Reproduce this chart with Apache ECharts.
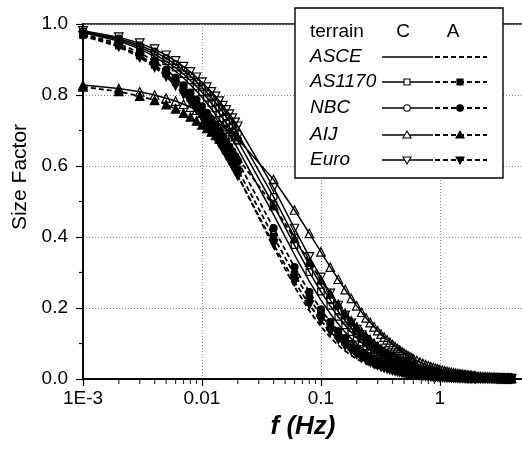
<!DOCTYPE html>
<html>
<head>
<meta charset="utf-8">
<script src="https://cdn.jsdelivr.net/npm/echarts@6/dist/echarts.min.js"></script>
<style>
html, body { margin: 0; padding: 0; background: #fff; }
#chart { width: 522px; height: 455px; }
</style>
</head>
<body>
<div id="chart"></div>
<script>
// frequency points (Hz), shared by every curve
const freq = [
  0.001, 0.002, 0.003, 0.004, 0.005, 0.006, 0.007, 0.008, 0.009, 0.010,
  0.011, 0.012, 0.013, 0.014, 0.015, 0.016, 0.017, 0.018, 0.019, 0.020,
  0.04, 0.06, 0.08, 0.10, 0.12, 0.14, 0.16, 0.18, 0.20, 0.22, 0.24, 0.26, 0.28, 0.30,
  0.32, 0.34, 0.36, 0.38, 0.40, 0.42, 0.44, 0.46, 0.48, 0.50, 0.52, 0.54, 0.56, 0.58, 0.60,
  0.64, 0.68, 0.72, 0.76, 0.80, 0.84, 0.88, 0.92, 0.96, 1.00,
  1.05, 1.10, 1.15, 1.20, 1.25, 1.30, 1.35, 1.40, 1.45, 1.50,
  1.55, 1.60, 1.65, 1.70, 1.75, 1.80, 1.85, 1.90, 1.95, 2.00,
  2.1, 2.2, 2.3, 2.4, 2.5, 2.6, 2.7, 2.8, 2.9, 3.0,
  3.1, 3.2, 3.3, 3.4, 3.5, 3.6, 3.7, 3.8, 3.9, 4.0
];

// size factor, terrain C and terrain A, per code
const asceC = [
  0.976, 0.952, 0.930, 0.908, 0.887, 0.867, 0.848, 0.829, 0.811, 0.794,
  0.777, 0.761, 0.745, 0.730, 0.716, 0.702, 0.688, 0.675, 0.662, 0.649,
  0.463, 0.350, 0.275, 0.222, 0.184, 0.155, 0.132, 0.114, 0.100, 0.088, 0.078, 0.070, 0.063, 0.057,
  0.0520, 0.0475, 0.0436, 0.0401, 0.0370, 0.0343, 0.0319, 0.0297, 0.0277, 0.0260, 0.0244, 0.0229, 0.0216, 0.0204, 0.0192,
  0.0173, 0.0156, 0.0141, 0.0129, 0.0118, 0.0108, 0.0100, 0.0092, 0.0085, 0.0079,
  0.0073, 0.0067, 0.0062, 0.0057, 0.0053, 0.0049, 0.0046, 0.0043, 0.0040, 0.0038,
  0.0036, 0.0034, 0.0032, 0.0030, 0.0028, 0.0027, 0.0026, 0.0024, 0.0023, 0.0022,
  0.0020, 0.0019, 0.0017, 0.0016, 0.0015, 0.0013, 0.0013, 0.0012, 0.0011, 0.0010,
  0.0010, 0.0009, 0.0009, 0.0008, 0.0008, 0.0007, 0.0007, 0.0006, 0.0006, 0.0006
];
const asceA = [
  0.969, 0.939, 0.911, 0.883, 0.857, 0.833, 0.809, 0.786, 0.764, 0.743,
  0.723, 0.704, 0.685, 0.668, 0.650, 0.634, 0.618, 0.603, 0.588, 0.574,
  0.372, 0.260, 0.192, 0.148, 0.117, 0.095, 0.079, 0.066, 0.057, 0.049, 0.043, 0.038, 0.033, 0.030,
  0.0267, 0.0241, 0.0219, 0.0199, 0.0183, 0.0168, 0.0155, 0.0143, 0.0133, 0.0123, 0.0115, 0.0108, 0.0101, 0.0095, 0.0089,
  0.0079, 0.0071, 0.0064, 0.0058, 0.0053, 0.0048, 0.0044, 0.0040, 0.0037, 0.0035,
  0.0032, 0.0029, 0.0027, 0.0025, 0.0023, 0.0021, 0.0020, 0.0018, 0.0017, 0.0016,
  0.0015, 0.0014, 0.0013, 0.0013, 0.0012, 0.0011, 0.0011, 0.0010, 0.0010, 0.0009,
  0.0008, 0.0008, 0.0007, 0.0007, 0.0006, 0.0006, 0.0005, 0.0005, 0.0005, 0.0004,
  0.0004, 0.0004, 0.0004, 0.0003, 0.0003, 0.0003, 0.0003, 0.0003, 0.0002, 0.0002
];
const as1170C = [
  0.977, 0.956, 0.935, 0.915, 0.895, 0.877, 0.859, 0.841, 0.824, 0.808,
  0.792, 0.777, 0.762, 0.748, 0.734, 0.721, 0.708, 0.695, 0.683, 0.671,
  0.490, 0.377, 0.301, 0.246, 0.206, 0.175, 0.151, 0.132, 0.116, 0.103, 0.092, 0.083, 0.075, 0.068,
  0.0620, 0.0568, 0.0523, 0.0483, 0.0447, 0.0416, 0.0387, 0.0362, 0.0338, 0.0317, 0.0298, 0.0281, 0.0265, 0.0251, 0.0237,
  0.0213, 0.0193, 0.0176, 0.0160, 0.0147, 0.0135, 0.0125, 0.0116, 0.0107, 0.0100,
  0.0092, 0.0085, 0.0078, 0.0072, 0.0067, 0.0063, 0.0059, 0.0055, 0.0052, 0.0048,
  0.0046, 0.0043, 0.0041, 0.0039, 0.0036, 0.0035, 0.0033, 0.0031, 0.0030, 0.0028,
  0.0026, 0.0024, 0.0022, 0.0020, 0.0019, 0.0017, 0.0016, 0.0015, 0.0014, 0.0013,
  0.0012, 0.0012, 0.0011, 0.0010, 0.0010, 0.0009, 0.0009, 0.0008, 0.0008, 0.0008
];
const as1170A = [
  0.969, 0.939, 0.911, 0.885, 0.860, 0.836, 0.813, 0.791, 0.770, 0.750,
  0.731, 0.713, 0.695, 0.678, 0.662, 0.647, 0.632, 0.617, 0.604, 0.590,
  0.401, 0.294, 0.226, 0.180, 0.147, 0.123, 0.104, 0.090, 0.078, 0.069, 0.061, 0.054, 0.049, 0.044,
  0.0399, 0.0364, 0.0333, 0.0306, 0.0282, 0.0261, 0.0243, 0.0226, 0.0211, 0.0197, 0.0185, 0.0173, 0.0163, 0.0154, 0.0145,
  0.0130, 0.0117, 0.0106, 0.0097, 0.0088, 0.0081, 0.0075, 0.0069, 0.0064, 0.0060,
  0.0055, 0.0050, 0.0046, 0.0043, 0.0040, 0.0037, 0.0034, 0.0032, 0.0030, 0.0028,
  0.0027, 0.0025, 0.0024, 0.0022, 0.0021, 0.0020, 0.0019, 0.0018, 0.0017, 0.0017,
  0.0015, 0.0014, 0.0013, 0.0012, 0.0011, 0.0010, 0.0009, 0.0009, 0.0008, 0.0008,
  0.0007, 0.0007, 0.0006, 0.0006, 0.0006, 0.0005, 0.0005, 0.0005, 0.0004, 0.0004
];
const nbcC = [
  0.979, 0.959, 0.940, 0.922, 0.904, 0.886, 0.869, 0.853, 0.837, 0.822,
  0.807, 0.793, 0.779, 0.765, 0.752, 0.739, 0.726, 0.714, 0.703, 0.691,
  0.513, 0.399, 0.321, 0.265, 0.222, 0.190, 0.164, 0.143, 0.126, 0.112, 0.100, 0.090, 0.082, 0.075,
  0.0681, 0.0625, 0.0576, 0.0532, 0.0493, 0.0458, 0.0427, 0.0399, 0.0374, 0.0351, 0.0330, 0.0311, 0.0293, 0.0277, 0.0263,
  0.0236, 0.0214, 0.0195, 0.0178, 0.0163, 0.0150, 0.0139, 0.0128, 0.0119, 0.0111,
  0.0102, 0.0094, 0.0087, 0.0081, 0.0075, 0.0070, 0.0065, 0.0061, 0.0057, 0.0054,
  0.0051, 0.0048, 0.0045, 0.0043, 0.0041, 0.0039, 0.0037, 0.0035, 0.0033, 0.0032,
  0.0029, 0.0027, 0.0024, 0.0023, 0.0021, 0.0019, 0.0018, 0.0017, 0.0016, 0.0015,
  0.0014, 0.0013, 0.0012, 0.0012, 0.0011, 0.0010, 0.0010, 0.0009, 0.0009, 0.0009
];
const nbcA = [
  0.972, 0.945, 0.919, 0.895, 0.871, 0.849, 0.827, 0.807, 0.787, 0.768,
  0.750, 0.732, 0.716, 0.700, 0.684, 0.669, 0.655, 0.641, 0.627, 0.614,
  0.425, 0.315, 0.245, 0.196, 0.161, 0.135, 0.115, 0.099, 0.086, 0.076, 0.067, 0.060, 0.054, 0.049,
  0.0443, 0.0404, 0.0371, 0.0341, 0.0314, 0.0291, 0.0270, 0.0252, 0.0235, 0.0220, 0.0206, 0.0194, 0.0182, 0.0172, 0.0162,
  0.0146, 0.0131, 0.0119, 0.0108, 0.0099, 0.0091, 0.0084, 0.0077, 0.0072, 0.0067,
  0.0061, 0.0056, 0.0052, 0.0048, 0.0044, 0.0041, 0.0039, 0.0036, 0.0034, 0.0032,
  0.0030, 0.0028, 0.0027, 0.0025, 0.0024, 0.0023, 0.0021, 0.0020, 0.0019, 0.0019,
  0.0017, 0.0015, 0.0014, 0.0013, 0.0012, 0.0011, 0.0010, 0.0010, 0.0009, 0.0009,
  0.0008, 0.0008, 0.0007, 0.0007, 0.0006, 0.0006, 0.0006, 0.0005, 0.0005, 0.0005
];
const aijC = [
  0.828, 0.818, 0.809, 0.800, 0.791, 0.783, 0.774, 0.766, 0.757, 0.749,
  0.742, 0.734, 0.726, 0.719, 0.711, 0.704, 0.697, 0.690, 0.683, 0.676,
  0.562, 0.476, 0.410, 0.358, 0.315, 0.281, 0.252, 0.227, 0.206, 0.188, 0.172, 0.159, 0.147, 0.136,
  0.1263, 0.1178, 0.1101, 0.1032, 0.0969, 0.0912, 0.0860, 0.0812, 0.0768, 0.0728, 0.0691, 0.0656, 0.0625, 0.0595, 0.0568,
  0.0519, 0.0475, 0.0438, 0.0404, 0.0374, 0.0348, 0.0324, 0.0303, 0.0283, 0.0266,
  0.0246, 0.0228, 0.0213, 0.0199, 0.0186, 0.0174, 0.0164, 0.0154, 0.0145, 0.0137,
  0.0130, 0.0123, 0.0117, 0.0111, 0.0106, 0.0101, 0.0096, 0.0092, 0.0087, 0.0084,
  0.0077, 0.0071, 0.0065, 0.0061, 0.0056, 0.0053, 0.0049, 0.0046, 0.0043, 0.0041,
  0.0038, 0.0036, 0.0034, 0.0032, 0.0031, 0.0029, 0.0028, 0.0026, 0.0025, 0.0024
];
const aijA = [
  0.823, 0.810, 0.797, 0.785, 0.773, 0.761, 0.749, 0.738, 0.727, 0.716,
  0.706, 0.696, 0.686, 0.676, 0.667, 0.658, 0.649, 0.640, 0.631, 0.623,
  0.488, 0.396, 0.329, 0.279, 0.240, 0.210, 0.185, 0.164, 0.147, 0.132, 0.120, 0.109, 0.100, 0.092,
  0.0849, 0.0785, 0.0729, 0.0679, 0.0634, 0.0593, 0.0557, 0.0523, 0.0493, 0.0465, 0.0440, 0.0416, 0.0394, 0.0375, 0.0356,
  0.0323, 0.0295, 0.0270, 0.0248, 0.0229, 0.0212, 0.0196, 0.0183, 0.0170, 0.0159,
  0.0147, 0.0136, 0.0126, 0.0118, 0.0110, 0.0103, 0.0096, 0.0090, 0.0085, 0.0080,
  0.0076, 0.0072, 0.0068, 0.0064, 0.0061, 0.0058, 0.0055, 0.0053, 0.0050, 0.0048,
  0.0044, 0.0040, 0.0037, 0.0035, 0.0032, 0.0030, 0.0028, 0.0026, 0.0024, 0.0023,
  0.0022, 0.0020, 0.0019, 0.0018, 0.0017, 0.0016, 0.0015, 0.0015, 0.0014, 0.0013
];
const euroC = [
  0.981, 0.963, 0.946, 0.929, 0.912, 0.896, 0.880, 0.865, 0.850, 0.836,
  0.822, 0.809, 0.796, 0.783, 0.770, 0.758, 0.746, 0.735, 0.723, 0.712,
  0.539, 0.424, 0.344, 0.286, 0.241, 0.207, 0.179, 0.157, 0.139, 0.124, 0.111, 0.100, 0.091, 0.083,
  0.0756, 0.0695, 0.0640, 0.0592, 0.0549, 0.0511, 0.0477, 0.0446, 0.0418, 0.0392, 0.0369, 0.0348, 0.0328, 0.0311, 0.0294,
  0.0265, 0.0240, 0.0218, 0.0200, 0.0183, 0.0169, 0.0156, 0.0144, 0.0134, 0.0125,
  0.0115, 0.0106, 0.0098, 0.0091, 0.0084, 0.0079, 0.0074, 0.0069, 0.0065, 0.0061,
  0.0057, 0.0054, 0.0051, 0.0048, 0.0046, 0.0044, 0.0041, 0.0039, 0.0038, 0.0036,
  0.0033, 0.0030, 0.0028, 0.0025, 0.0024, 0.0022, 0.0020, 0.0019, 0.0018, 0.0017,
  0.0016, 0.0015, 0.0014, 0.0013, 0.0012, 0.0012, 0.0011, 0.0011, 0.0010, 0.0010
];
const euroA = [
  0.967, 0.936, 0.906, 0.878, 0.852, 0.826, 0.802, 0.780, 0.758, 0.737,
  0.717, 0.698, 0.680, 0.663, 0.646, 0.630, 0.615, 0.600, 0.586, 0.572,
  0.380, 0.274, 0.209, 0.165, 0.133, 0.111, 0.093, 0.080, 0.069, 0.060, 0.053, 0.047, 0.042, 0.038,
  0.0344, 0.0313, 0.0286, 0.0262, 0.0241, 0.0223, 0.0206, 0.0192, 0.0178, 0.0167, 0.0156, 0.0146, 0.0138, 0.0129, 0.0122,
  0.0109, 0.0098, 0.0089, 0.0081, 0.0074, 0.0068, 0.0062, 0.0057, 0.0053, 0.0049,
  0.0045, 0.0041, 0.0038, 0.0035, 0.0033, 0.0030, 0.0028, 0.0026, 0.0025, 0.0023,
  0.0022, 0.0021, 0.0019, 0.0018, 0.0017, 0.0016, 0.0016, 0.0015, 0.0014, 0.0013,
  0.0012, 0.0011, 0.0010, 0.0010, 0.0009, 0.0008, 0.0008, 0.0007, 0.0007, 0.0006,
  0.0006, 0.0005, 0.0005, 0.0005, 0.0005, 0.0004, 0.0004, 0.0004, 0.0004, 0.0004
];

// axis ticks
const xTickValues = [0.001, 0.01, 0.1, 1];
const xTickLabels = ['1E-3', '0.01', '0.1', '1'];
const xMinorTicks = [
  0.002, 0.003, 0.004, 0.005, 0.006, 0.007, 0.008, 0.009,
  0.02, 0.03, 0.04, 0.05, 0.06, 0.07, 0.08, 0.09,
  0.2, 0.3, 0.4, 0.5, 0.6, 0.7, 0.8, 0.9,
  2, 3, 4
];

// legend rows
const codes = ['ASCE', 'AS1170', 'NBC', 'AIJ', 'Euro'];
const terrains = ['C', 'A'];

const font = '"Liberation Sans", Arial, Helvetica, sans-serif';
const chart = echarts.init(document.getElementById('chart'));

// marker look per code (null = plain line)
const markerOf = {
  'ASCE': null,
  'AS1170': { symbol: 'rect', size: 6.5, rotate: 0 },
  'NBC': { symbol: 'circle', size: 7, rotate: 0 },
  'AIJ': { symbol: 'triangle', size: 8.5, rotate: 0 },
  'Euro': { symbol: 'triangle', size: 8.5, rotate: 180 }
};

function curve(code, terrain, values) {
  const m = markerOf[code];
  const dashed = terrain === 'A';
  return {
    name: code + ' ' + terrain,
    type: 'line',
    data: freq.map((f, i) => [f, values[i]]),
    symbol: m ? m.symbol : 'none',
    symbolSize: m ? m.size : 0,
    symbolRotate: m ? m.rotate : 0,
    showSymbol: !!m,
    lineStyle: { color: '#000', width: dashed ? 1.8 : 1.5, type: dashed ? [5, 3] : 'solid' },
    // open symbols are hollow, filled ones solid black
    itemStyle: { color: dashed ? '#000' : 'rgba(255,255,255,0)', borderColor: '#000', borderWidth: 1.2 },
    emphasis: { disabled: true },
    silent: true
  };
}

function xLabel(v) {
  for (let i = 0; i < xTickValues.length; i++) {
    if (Math.abs(Math.log10(v) - Math.log10(xTickValues[i])) < 1e-6) return xTickLabels[i];
  }
  return '';
}

// legend table drawn as graphics
const box = { x: 295, y: 8, w: 208, h: 170 };
const rowY = [57, 82, 108, 135, 160];
const lineC = [382, 433], lineA = [435, 487];
const markX = { C: 407, A: 460 };

function legendMarker(code, cx, cy, filled) {
  const m = markerOf[code];
  const style = { fill: filled ? '#000' : '#fff', stroke: '#000', lineWidth: 1.1 };
  if (!m) return null;
  if (m.symbol === 'rect') return { type: 'rect', shape: { x: cx - 3, y: cy - 3, width: 6, height: 6 }, style, z: 102 };
  if (m.symbol === 'circle') return { type: 'circle', shape: { cx, cy, r: 3.3 }, style, z: 102 };
  if (m.rotate === 0) return { type: 'polygon', shape: { points: [[cx, cy - 4], [cx + 4, cy + 3], [cx - 4, cy + 3]] }, style, z: 102 };
  return { type: 'polygon', shape: { points: [[cx, cy + 4], [cx + 4, cy - 3], [cx - 4, cy - 3]] }, style, z: 102 };
}

const graphics = [
  { type: 'rect', shape: { x: box.x, y: box.y, width: box.w, height: box.h },
    style: { fill: '#fff', stroke: '#000', lineWidth: 1.4 }, z: 100 },
  { type: 'text', x: 310, y: 32, z: 101,
    style: { text: 'terrain', fontSize: 19, fontFamily: font, fill: '#000', align: 'left', verticalAlign: 'middle' } },
  { type: 'text', x: 403, y: 32, z: 101,
    style: { text: terrains[0], fontSize: 19, fontFamily: font, fill: '#000', align: 'center', verticalAlign: 'middle' } },
  { type: 'text', x: 453, y: 32, z: 101,
    style: { text: terrains[1], fontSize: 19, fontFamily: font, fill: '#000', align: 'center', verticalAlign: 'middle' } },
  // y axis title
  { type: 'text', x: 20, y: 177, rotation: Math.PI / 2, z: 101,
    style: { text: 'Size Factor', fontSize: 21, fontFamily: font, fill: '#000', align: 'center', verticalAlign: 'middle' } }
];
codes.forEach((code, i) => {
  const y = rowY[i];
  graphics.push({ type: 'text', x: 310, y: y, z: 101,
    style: { text: code, fontSize: 19, fontStyle: 'italic', fontFamily: font, fill: '#000', align: 'left', verticalAlign: 'middle' } });
  graphics.push({ type: 'line', shape: { x1: lineC[0], y1: y, x2: lineC[1], y2: y }, z: 101,
    style: { stroke: '#000', lineWidth: 1.6 } });
  graphics.push({ type: 'line', shape: { x1: lineA[0], y1: y, x2: lineA[1], y2: y }, z: 101,
    style: { stroke: '#000', lineWidth: 1.8, lineDash: [5, 3] } });
  const mc = legendMarker(code, markX.C, y, false);
  const ma = legendMarker(code, markX.A, y, true);
  if (mc) graphics.push(mc);
  if (ma) graphics.push(ma);
});

const series = [
  curve('ASCE', 'C', asceC), curve('AS1170', 'C', as1170C), curve('NBC', 'C', nbcC),
  curve('AIJ', 'C', aijC), curve('Euro', 'C', euroC),
  curve('ASCE', 'A', asceA), curve('AS1170', 'A', as1170A), curve('NBC', 'A', nbcA),
  curve('AIJ', 'A', aijA), curve('Euro', 'A', euroA),
  {
    // minor ticks of the log axis
    type: 'scatter',
    data: xMinorTicks.map(f => [f, 0]),
    symbol: 'rect',
    symbolSize: [1.2, 4],
    symbolOffset: [0, 3],
    itemStyle: { color: '#000' },
    clip: false,
    silent: true,
    z: 5
  }
];

const option = {
  animation: false,
  backgroundColor: '#fff',
  grid: { left: 83, top: 24, width: 440, height: 355, show: true, borderColor: '#000', borderWidth: 1.5,
    containLabel: false, outerBoundsMode: 'none' },
  xAxis: {
    type: 'log', logBase: 10, min: 0.001, max: 5,
    name: 'f (Hz)', nameLocation: 'middle', nameGap: 35,
    nameTextStyle: { fontSize: 26, fontWeight: 'bold', fontStyle: 'italic', fontFamily: font, color: '#000' },
    axisLine: { lineStyle: { color: '#000', width: 1.8 } },
    axisTick: { show: true, inside: false, length: 7, lineStyle: { color: '#000', width: 1.2 } },
    axisLabel: { color: '#000', fontSize: 19, fontFamily: font, margin: 10, formatter: xLabel },
    splitLine: { show: true, lineStyle: { color: '#888', width: 1, type: [1, 2] } }
  },
  yAxis: {
    type: 'value', min: 0, max: 1, interval: 0.2,
    axisLine: { show: true, lineStyle: { color: '#000', width: 1.8 } },
    axisTick: { show: true, inside: false, length: 7, lineStyle: { color: '#000', width: 1.2 } },
    minorTick: { show: true, splitNumber: 2, length: 4, lineStyle: { color: '#000', width: 1.2 } },
    axisLabel: { color: '#000', fontSize: 19, fontFamily: font, margin: 15, formatter: v => v.toFixed(1) },
    splitLine: { show: true, lineStyle: { color: '#888', width: 1, type: [1, 2] } }
  },
  graphic: graphics,
  series: series
};

option && chart.setOption(option);
</script>
</body>
</html>
